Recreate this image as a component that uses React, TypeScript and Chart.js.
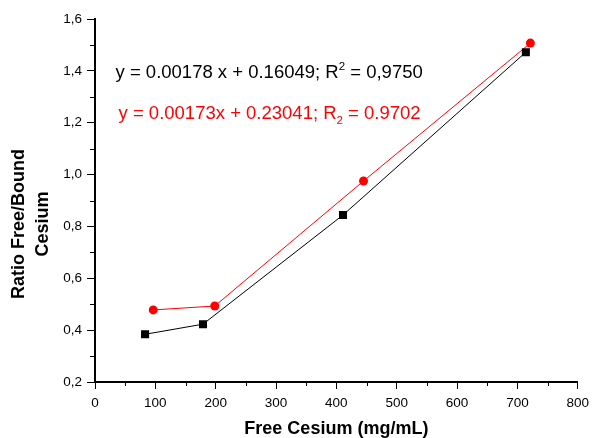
import React, { useEffect, useRef } from 'react';
import { Chart, registerables } from 'chart.js';

Chart.register(...registerables);

const blackX = [83, 179, 411, 714];
const blackY = [0.384, 0.423, 0.844, 1.472];
const redX = [96.5, 198.5, 445, 721.5];
const redY = [0.478, 0.493, 0.975, 1.507];

const xTicks = [0, 100, 200, 300, 400, 500, 600, 700, 800];
const yTicks = [0.2, 0.4, 0.6, 0.8, 1.0, 1.2, 1.4, 1.6];
const xMinor = [50, 150, 250, 350, 450, 550, 650, 750];
const yMinor = [0.3, 0.5, 0.7, 0.9, 1.1, 1.3, 1.5];

const xTitle = 'Free Cesium (mg/mL)';
const yTitle = ['Ratio Free/Bound', 'Cesium'];

const eqBlack = ['y = 0.00178 x + 0.16049; R', '2', ' = 0,9750'];
const eqRed = ['y = 0.00173x + 0.23041; R', '2', ' = 0.9702'];
const eqBlackAt = [34, 1.392];
const eqRedAt = [39, 1.233];

const FONT = '"Liberation Sans", Arial, sans-serif';

const overlay = {
  id: 'overlay',
  afterDraw(chart: any) {
    const { ctx, chartArea } = chart;
    const xs = chart.scales.x;
    const ys = chart.scales.y;
    ctx.save();
    // minor ticks
    ctx.strokeStyle = '#000';
    ctx.lineWidth = 1;
    ctx.beginPath();
    for (const v of xMinor) {
      const px = Math.round(xs.getPixelForValue(v)) + 0.5;
      ctx.moveTo(px, chartArea.bottom);
      ctx.lineTo(px, chartArea.bottom + 4);
    }
    for (const v of yMinor) {
      const py = Math.round(ys.getPixelForValue(v)) + 0.5;
      ctx.moveTo(chartArea.left, py);
      ctx.lineTo(chartArea.left - 5, py);
    }
    ctx.stroke();

    // axis titles
    ctx.fillStyle = '#000';
    ctx.font = `bold 18px ${FONT}`;
    ctx.textAlign = 'center';
    ctx.textBaseline = 'middle';
    ctx.fillText(xTitle, (chartArea.left + chartArea.right) / 2, 429);
    ctx.save();
    ctx.translate(19.5, 224);
    ctx.rotate(-Math.PI / 2);
    ctx.fillText(yTitle[0], 0, 0);
    ctx.restore();
    ctx.save();
    ctx.translate(43, 224);
    ctx.rotate(-Math.PI / 2);
    ctx.fillText(yTitle[1], 0, 0);
    ctx.restore();

    // equations
    const drawEq = (parts: string[], at: number[], color: string, sup: boolean) => {
      let x = xs.getPixelForValue(at[0]);
      const y = ys.getPixelForValue(at[1]);
      ctx.fillStyle = color;
      ctx.textAlign = 'left';
      ctx.textBaseline = 'middle';
      ctx.font = `18.5px ${FONT}`;
      ctx.fillText(parts[0], x, y);
      x += ctx.measureText(parts[0]).width;
      ctx.font = `11.5px ${FONT}`;
      ctx.fillText(parts[1], x, sup ? y - 6 : y + 7);
      x += ctx.measureText(parts[1]).width;
      ctx.font = `18.5px ${FONT}`;
      ctx.fillText(parts[2], x, y);
    };
    drawEq(eqBlack, eqBlackAt, '#000', true);
    drawEq(eqRed, eqRedAt, '#ff0000', false);
    ctx.restore();
  },
};

export default function App() {
  const ref = useRef<HTMLCanvasElement | null>(null);
  useEffect(() => {
    if (!ref.current) return;
    const chart = new Chart(ref.current, {
      type: 'line',
      data: {
        datasets: [
          {
            data: blackX.map((x, i) => ({ x, y: blackY[i] })),
            borderColor: '#000',
            backgroundColor: '#000',
            borderWidth: 1,
            pointStyle: 'rect',
            pointRadius: 5.7,
            pointBorderWidth: 0,
            pointBackgroundColor: '#000',
          },
          {
            data: redX.map((x, i) => ({ x, y: redY[i] })),
            borderColor: '#ff0000',
            backgroundColor: '#ff0000',
            borderWidth: 1,
            pointStyle: 'circle',
            pointRadius: 4.5,
            pointBorderWidth: 0,
            pointBackgroundColor: '#ff0000',
          },
        ],
      },
      options: {
        animation: false,
        responsive: false,
        layout: { padding: { left: 0, right: 13, top: 19, bottom: 0 } },
        plugins: { legend: { display: false }, tooltip: { enabled: false } },
        scales: {
          x: {
            type: 'linear',
            min: 0,
            max: 800,
            afterBuildTicks: (s: any) => {
              s.ticks = xTicks.map((v) => ({ value: v }));
            },
            afterFit: (s: any) => {
              s.height = 56;
            },
            grid: { drawOnChartArea: false, drawTicks: true, tickLength: 7, color: '#000', lineWidth: 1 },
            border: { display: true, color: '#000', width: 2 },
            ticks: {
              color: '#000',
              font: { family: FONT, size: 13.5 },
              padding: 6,
              maxRotation: 0,
              autoSkip: false,
              callback: (v: any) => String(v),
            },
          },
          y: {
            type: 'linear',
            min: 0.2,
            max: 1.6,
            afterBuildTicks: (s: any) => {
              s.ticks = yTicks.map((v) => ({ value: v }));
            },
            afterFit: (s: any) => {
              s.width = 95;
            },
            grid: { drawOnChartArea: false, drawTicks: true, tickLength: 8, color: '#000', lineWidth: 1 },
            border: { display: true, color: '#000', width: 2 },
            ticks: {
              color: '#000',
              font: { family: FONT, size: 13.5 },
              padding: 5,
              autoSkip: false,
              callback: (v: any) => Number(v).toFixed(1).replace('.', ','),
            },
          },
        },
      },
      plugins: [overlay],
    } as any);
    return () => chart.destroy();
  }, []);
  return (
    <div style={{ position: 'fixed', left: 0, top: 0, width: 595, height: 438, background: '#fff' }}>
      <canvas ref={ref} width={595} height={438} />
    </div>
  );
}
